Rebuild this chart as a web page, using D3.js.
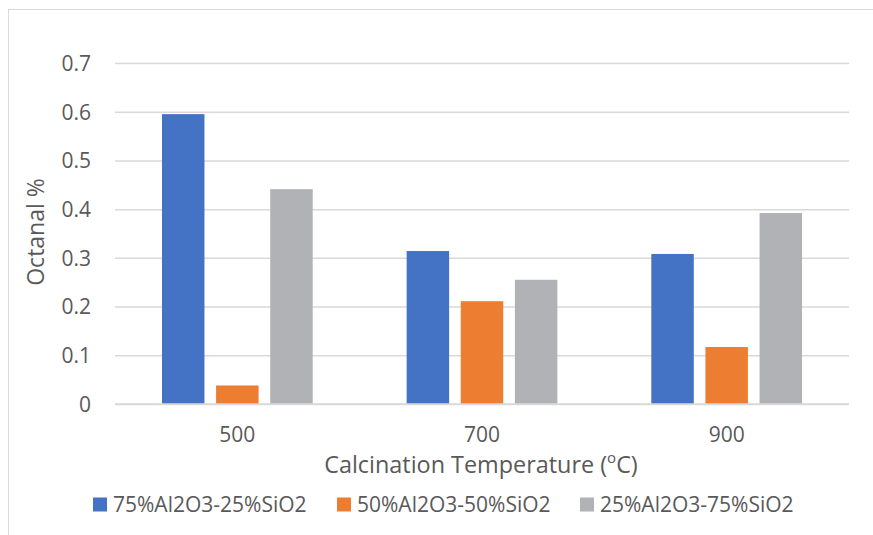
<!DOCTYPE html>
<html><head><meta charset="utf-8">
<script src="https://cdn.jsdelivr.net/npm/d3@7"></script>
<style>body{margin:0;background:#fff}svg{display:block}text{font-family:"Open Sans",Lato,sans-serif;fill:#595959}</style>
</head><body>
<svg id="c" width="873" height="535"></svg>
<script>
const categories = ["500", "700", "900"];
const seriesNames = ["75%Al2O3-25%SiO2", "50%Al2O3-50%SiO2", "25%Al2O3-75%SiO2"];
const s75 = [0.595, 0.314, 0.308];
const s50 = [0.038, 0.211, 0.117];
const s25 = [0.441, 0.255, 0.392];
const yTicks = [0, 0.1, 0.2, 0.3, 0.4, 0.5, 0.6, 0.7];
const colors = ["#4472C4", "#ED7D31", "#B1B2B5"];
const seriesValues = [s75, s50, s25];

const svg = d3.select("#c");
// chart frame
svg.append("rect").attr("x", 8.5).attr("y", 9.5).attr("width", 900).attr("height", 600)
  .attr("fill", "none").attr("stroke", "#d9d9d9").attr("stroke-width", 1);

const L = 115, R = 849, T = 63, B = 404;
const x0 = d3.scaleBand().domain(categories).range([L, R]).paddingInner(0.384).paddingOuter(0.192);
const x1 = d3.scaleBand().domain(d3.range(3)).range([0, x0.bandwidth()]).paddingInner(0.215).paddingOuter(0);
const y = d3.scaleLinear().domain([0, 0.7]).range([B, T]);

// gridlines
const yAxis = d3.axisLeft(y).tickValues(yTicks).tickSize(-(R - L)).tickPadding(22)
  .tickFormat(d => d === 0 ? "0" : d3.format(".1f")(d));
const gy = svg.append("g").attr("transform", `translate(${L},0)`).call(yAxis);
gy.select(".domain").remove();
gy.selectAll(".tick line").attr("stroke", "#d9d9d9").attr("stroke-width", 1.5);
gy.selectAll(".tick text").attr("font-size", 21).style("fill", "#595959").attr("dy", "0.35em");
gy.selectAll(".tick text").attr("text-anchor", "end").attr("x", -24);

// bars
const groups = svg.append("g").selectAll("g").data(categories).join("g")
  .attr("transform", d => `translate(${x0(d)},0)`);
groups.selectAll("rect").data((d, i) => seriesValues.map((s, k) => ({k, v: s[i]}))).join("rect")
  .attr("x", d => x1(d.k)).attr("width", x1.bandwidth())
  .attr("y", d => y(d.v)).attr("height", d => y(0) - y(d.v))
  .attr("fill", d => colors[d.k]);

// baseline redraw on top
svg.append("line").attr("x1", L).attr("x2", R).attr("y1", y(0)).attr("y2", y(0))
  .attr("stroke", "#d9d9d9").attr("stroke-width", 1.5);

// x axis labels
const xAxis = d3.axisBottom(x0).tickSize(0).tickPadding(23);
const gx = svg.append("g").attr("transform", `translate(0,${B})`).call(xAxis);
gx.select(".domain").remove();
gx.selectAll(".tick text").attr("font-size", 21).style("fill", "#595959");

// axis titles
const xt = svg.append("text").attr("x", 481).attr("y", 473).attr("text-anchor", "middle").attr("font-size", 23.4);
xt.append("tspan").text("Calcination Temperature (");
xt.append("tspan").text("o").attr("font-size", 15).attr("baseline-shift", "super");
xt.append("tspan").text("C)");

svg.append("text").attr("transform", "translate(44,232) rotate(-90)").attr("text-anchor", "middle")
  .attr("font-size", 23).text("Octanal %");

// legend
const legX = [93, 337, 580];
const leg = svg.append("g").selectAll("g").data(seriesNames).join("g")
  .attr("transform", (d, i) => `translate(${legX[i]},497.5)`);
leg.append("rect").attr("width", 14).attr("height", 14).attr("fill", (d, i) => colors[i]);
leg.append("text").attr("x", 20).attr("y", 7).attr("dy", "0.35em").attr("font-size", 21).text(d => d);
</script>
</body></html>
